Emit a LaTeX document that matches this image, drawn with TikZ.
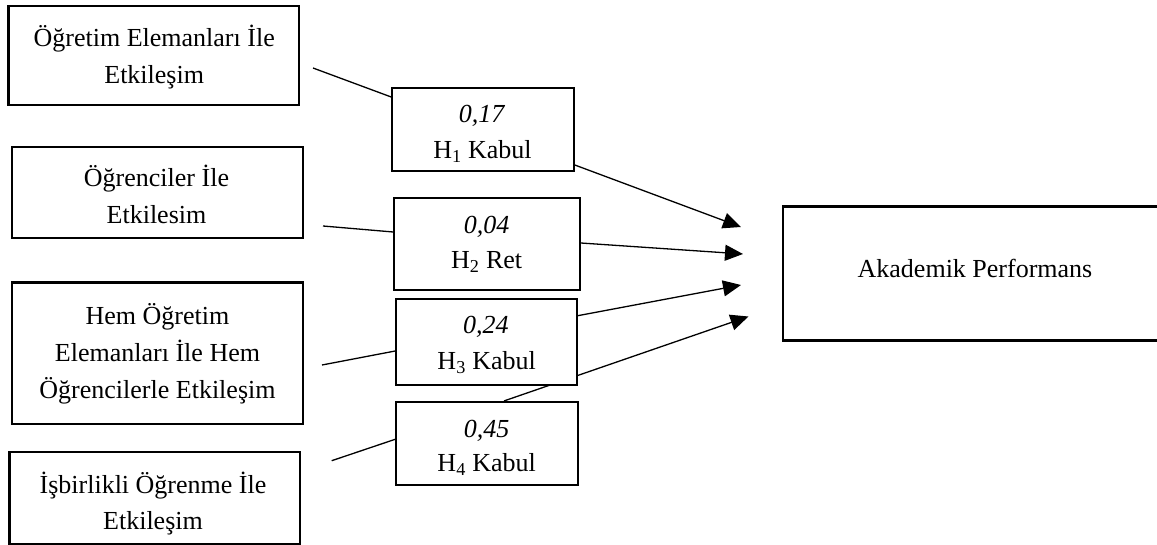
\documentclass[tikz,border=0pt]{standalone}
\usepackage{fontspec}
\setmainfont{Liberation Serif}
\usetikzlibrary{arrows.meta,backgrounds}
\begin{document}
\begin{tikzpicture}[x=1pt,y=-1pt,
  mainbox/.style={draw, line width=2.3pt, fill=white, inner sep=0pt},
  hbox/.style={draw, line width=1.6pt, fill=white, inner sep=0pt},
  txt/.style={font=\fontsize{26}{31}\selectfont, inner sep=0pt, anchor=base},
  link/.style={line width=1.3pt},
  arr/.style={link, -{Triangle[length=18pt,width=16pt]}}]

\useasboundingbox (0,0) rectangle (1157,545);

% left boxes
\node[mainbox, minimum width=290.7pt, minimum height=99pt]   (b1) at (153.7,55.5) {};
\node[mainbox, minimum width=291pt,   minimum height=91pt]   (b2) at (157.2,192.2) {};
\node[mainbox, minimum width=291.3pt, minimum height=141.3pt] (b3) at (157.3,353.3) {};
\node[mainbox, minimum width=290.7pt, minimum height=92pt]   (b4) at (154.7,497.7) {};

% hypothesis boxes
\node[hbox, minimum width=182pt, minimum height=83pt]   (h1) at (483,129.5) {};
\node[hbox, minimum width=186pt, minimum height=92pt]   (h2) at (487,244) {};
\node[hbox, minimum width=181pt, minimum height=86pt]   (h3) at (486.5,342) {};
\node[hbox, minimum width=182pt, minimum height=83.3pt] (h4) at (487,443.4) {};

% outcome box
\node[mainbox, minimum width=379pt, minimum height=134pt] (ap) at (972.5,273.5) {};

% texts
\node[txt] (b1a) at (154.2,46.7) {Öğretim Elemanları İle};
\node[txt] (b1b) at (154.2,83.3) {Etkileşim};
\node[txt] (b2a) at (156.5,186.7) {Öğrenciler İle};
\node[txt] (b2b) at (156.5,223.5) {Etkilesim};
\node[txt] (b3a) at (157.5,325) {Hem Öğretim};
\node[txt] (b3b) at (157.5,361.7) {Elemanları İle Hem};
\node[txt] (b3c) at (157.5,398.3) {Öğrencilerle Etkileşim};
\node[txt] (b4a) at (153,493.3) {İşbirlikli Öğrenme İle};
\node[txt] (b4b) at (153,529.3) {Etkileşim};

\node[txt] (h1a) at (482,123) {\textit{0,17}};
\node[txt] (h1b) at (482.5,159) {H\textsubscript{1} Kabul};
\node[txt] (h2a) at (486.7,233.3) {\textit{0,04}};
\node[txt] (h2b) at (486.7,268.3) {H\textsubscript{2} Ret};
\node[txt] (h3a) at (485.8,334) {\textit{0,24}};
\node[txt] (h3b) at (486.7,370) {H\textsubscript{3} Kabul};
\node[txt] (h4a) at (486.7,437.3) {\textit{0,45}};
\node[txt] (h4b) at (486.7,471.7) {H\textsubscript{4} Kabul};

\node[txt] (apt) at (975,277.3) {Akademik Performans};

% free ends
\coordinate (s1) at (313,68);
\coordinate (s2) at (323,226);
\coordinate (s3) at (322,365);
\coordinate (s4) at (331.7,460.7);
\coordinate (t1) at (741,227);
\coordinate (t2) at (743,254);
\coordinate (t3) at (741,285);
\coordinate (t4) at (748.5,316.5);

\begin{scope}[on background layer]
  \fill[white] (0,0) rectangle (1157,545);
  \draw[link] (s1) -- (h1.west |- 0,97);
  \draw[link] (s2) -- (h2.west |- 0,232);
  \draw[link] (s3) -- (h3.west |- 0,351);
  \draw[link] (s4) -- (h4.west |- 0,439.3);
  \draw[arr] (h1.east |- 0,165) -- (t1);
  \draw[arr] (h2.east |- 0,243) -- (t2);
  \draw[arr] (h3.east |- 0,315.7) -- (t3);
  \draw[arr] (h4.north -| 504,0) -- (t4);
\end{scope}
\end{tikzpicture}
\end{document}
